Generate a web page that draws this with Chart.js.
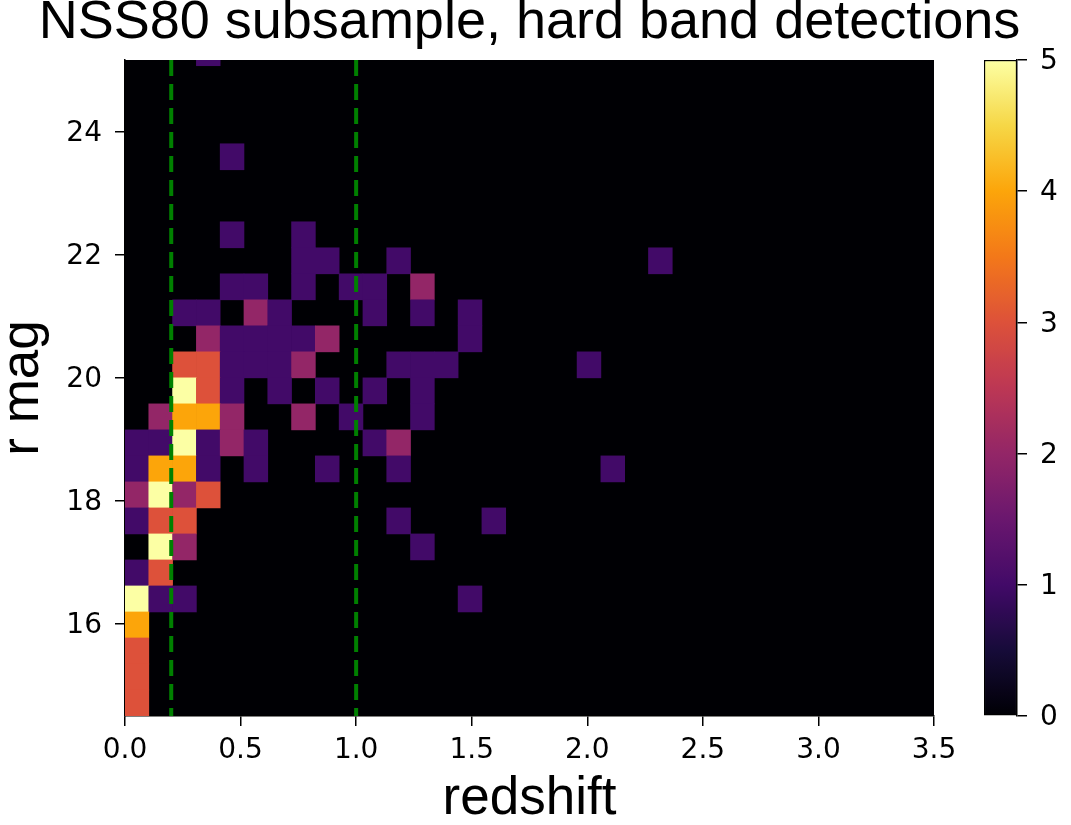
<!DOCTYPE html>
<html>
<head>
<meta charset="utf-8">
<title>NSS80 subsample, hard band detections</title>
<script src="https://cdn.jsdelivr.net/npm/chart.js@4.4.1/dist/chart.umd.min.js"></script>
<style>
    html, body { margin: 0; padding: 0; background: #ffffff; }
    #wrap { position: relative; width: 1071px; height: 825px; }
    #heatmap { position: absolute; left: 0; top: 0; }
    #colorbar { position: absolute; left: 940px; top: 0; }
</style>
</head>
<body>
<div id="wrap">
    <canvas id="heatmap" width="1071" height="825"></canvas>
    <canvas id="colorbar" width="131" height="825"></canvas>
</div>
<script>
// binning of the 2D histogram (redshift on x, r mag on y)
const zRange = [0, 3.5];
const zBinCount = 34;
const rRange = [14.5, 25.5];
const rBinCount = 26;

// visible r mag window of the plot
const rView = [14.5, 25.17];

// counts per bin, one row per r mag bin, first row = top (faintest) bin
const counts = [
    [0,0,0,1,0,0,0,0,0,0, 0,0,0,0,0,0,0,0,0,0, 0,0,0,0,0,0,0,0,0,0, 0,0,0,0], // 25.08-25.50
    [0,0,0,0,0,0,0,0,0,0, 0,0,0,0,0,0,0,0,0,0, 0,0,0,0,0,0,0,0,0,0, 0,0,0,0],
    [0,0,0,0,0,0,0,0,0,0, 0,0,0,0,0,0,0,0,0,0, 0,0,0,0,0,0,0,0,0,0, 0,0,0,0],
    [0,0,0,0,0,0,0,0,0,0, 0,0,0,0,0,0,0,0,0,0, 0,0,0,0,0,0,0,0,0,0, 0,0,0,0],
    [0,0,0,0,1,0,0,0,0,0, 0,0,0,0,0,0,0,0,0,0, 0,0,0,0,0,0,0,0,0,0, 0,0,0,0],
    [0,0,0,0,0,0,0,0,0,0, 0,0,0,0,0,0,0,0,0,0, 0,0,0,0,0,0,0,0,0,0, 0,0,0,0],
    [0,0,0,0,0,0,0,0,0,0, 0,0,0,0,0,0,0,0,0,0, 0,0,0,0,0,0,0,0,0,0, 0,0,0,0],
    [0,0,0,0,1,0,0,1,0,0, 0,0,0,0,0,0,0,0,0,0, 0,0,0,0,0,0,0,0,0,0, 0,0,0,0],
    [0,0,0,0,0,0,0,1,1,0, 0,1,0,0,0,0,0,0,0,0, 0,0,1,0,0,0,0,0,0,0, 0,0,0,0],
    [0,0,0,0,1,1,0,1,0,1, 1,0,2,0,0,0,0,0,0,0, 0,0,0,0,0,0,0,0,0,0, 0,0,0,0],
    [0,0,1,1,0,2,1,0,0,0, 1,0,1,0,1,0,0,0,0,0, 0,0,0,0,0,0,0,0,0,0, 0,0,0,0],
    [0,0,0,2,1,1,1,1,2,0, 0,0,0,0,1,0,0,0,0,0, 0,0,0,0,0,0,0,0,0,0, 0,0,0,0],
    [0,0,3,3,1,1,1,2,0,0, 0,1,1,1,0,0,0,0,0,1, 0,0,0,0,0,0,0,0,0,0, 0,0,0,0],
    [0,0,5,3,1,0,1,0,1,0, 1,0,1,0,0,0,0,0,0,0, 0,0,0,0,0,0,0,0,0,0, 0,0,0,0],
    [0,2,4,4,2,0,0,2,0,1, 0,0,1,0,0,0,0,0,0,0, 0,0,0,0,0,0,0,0,0,0, 0,0,0,0],
    [1,1,5,1,2,1,0,0,0,0, 1,2,0,0,0,0,0,0,0,0, 0,0,0,0,0,0,0,0,0,0, 0,0,0,0],
    [1,4,4,1,0,1,0,0,1,0, 0,1,0,0,0,0,0,0,0,0, 1,0,0,0,0,0,0,0,0,0, 0,0,0,0],
    [2,5,2,3,0,0,0,0,0,0, 0,0,0,0,0,0,0,0,0,0, 0,0,0,0,0,0,0,0,0,0, 0,0,0,0],
    [1,3,3,0,0,0,0,0,0,0, 0,1,0,0,0,1,0,0,0,0, 0,0,0,0,0,0,0,0,0,0, 0,0,0,0],
    [0,5,2,0,0,0,0,0,0,0, 0,0,1,0,0,0,0,0,0,0, 0,0,0,0,0,0,0,0,0,0, 0,0,0,0],
    [1,3,0,0,0,0,0,0,0,0, 0,0,0,0,0,0,0,0,0,0, 0,0,0,0,0,0,0,0,0,0, 0,0,0,0],
    [5,1,1,0,0,0,0,0,0,0, 0,0,0,0,1,0,0,0,0,0, 0,0,0,0,0,0,0,0,0,0, 0,0,0,0],
    [4,0,0,0,0,0,0,0,0,0, 0,0,0,0,0,0,0,0,0,0, 0,0,0,0,0,0,0,0,0,0, 0,0,0,0],
    [3,0,0,0,0,0,0,0,0,0, 0,0,0,0,0,0,0,0,0,0, 0,0,0,0,0,0,0,0,0,0, 0,0,0,0],
    [3,0,0,0,0,0,0,0,0,0, 0,0,0,0,0,0,0,0,0,0, 0,0,0,0,0,0,0,0,0,0, 0,0,0,0],
    [3,0,0,0,0,0,0,0,0,0, 0,0,0,0,0,0,0,0,0,0, 0,0,0,0,0,0,0,0,0,0, 0,0,0,0]  // 14.50-14.92
];

// dashed redshift cuts
const cutLines = [0.2, 1.0];

// ticks
const xTicks = [0, 0.5, 1.0, 1.5, 2.0, 2.5, 3.0, 3.5];
const xTickLabels = ['0.0', '0.5', '1.0', '1.5', '2.0', '2.5', '3.0', '3.5'];
const yTicks = [16, 18, 20, 22, 24];
const cbarTicks = [0, 1, 2, 3, 4, 5];
const cbarMax = 5;

// inferno colormap stops (0..1)
const infernoStops = ['#000004', '#160b39', '#420a68', '#6a176e', '#932667', '#bc3754',
                      '#dd513a', '#f37819', '#fca50a', '#f6d746', '#fcffa4'];

function hexToRgb(h) {
    return [parseInt(h.substr(1, 2), 16), parseInt(h.substr(3, 2), 16), parseInt(h.substr(5, 2), 16)];
}

function inferno(t) {
    t = Math.max(0, Math.min(1, t));
    const pos = t * (infernoStops.length - 1);
    const k = Math.min(Math.floor(pos), infernoStops.length - 2);
    const f = pos - k;
    const a = hexToRgb(infernoStops[k]);
    const b = hexToRgb(infernoStops[k + 1]);
    const c = a.map((v, n) => Math.round(v + (b[n] - v) * f));
    return `rgb(${c[0]},${c[1]},${c[2]})`;
}

document.addEventListener("DOMContentLoaded", function () {
    const zStep = (zRange[1] - zRange[0]) / zBinCount;
    const rStep = (rRange[1] - rRange[0]) / rBinCount;

    // turn the count table into floating bars, one per non-empty bin
    const cells = [];
    counts.forEach((row, rowIdx) => {
        const j = rBinCount - 1 - rowIdx;
        row.forEach((v, i) => {
            if (v > 0) {
                cells.push({
                    x: zRange[0] + (i + 0.5) * zStep,
                    y: [rRange[0] + j * rStep, rRange[0] + (j + 1) * rStep],
                    v: v
                });
            }
        });
    });

    const black = '#000000';
    const tickFont = { family: 'DejaVu Sans', size: 28 };
    const labelFont = { family: 'Liberation Sans', size: 53, lineHeight: 0.8 };

    // fill plot area with the colormap's zero colour
    const plotBackground = {
        id: 'plotBackground',
        beforeDraw(chart) {
            const { ctx, chartArea: a } = chart;
            ctx.save();
            ctx.fillStyle = inferno(0);
            ctx.fillRect(a.left, a.top, a.right - a.left, a.bottom - a.top);
            ctx.restore();
        }
    };

    const lineSets = cutLines.map(z => ({
        type: 'line',
        data: [{ x: z, y: rView[1] }, { x: z, y: rView[0] }],
        borderColor: '#008000',
        borderWidth: 4,
        borderDash: [16, 8],
        pointRadius: 0,
        fill: false,
        order: 0
    }));

    new Chart(document.getElementById('heatmap'), {
        type: 'bar',
        data: {
            datasets: [{
                data: cells,
                backgroundColor: ctx => ctx.raw ? inferno(ctx.raw.v / cbarMax) : black,
                borderWidth: 0,
                barPercentage: 1,
                categoryPercentage: 1,
                order: 1
            }].concat(lineSets)
        },
        options: {
            responsive: false,
            animation: false,
            // title box spans 0..1059 so it stays centred over the plot area
            layout: { padding: { left: 0, right: 12, top: 0, bottom: 0 } },
            plugins: {
                legend: { display: false },
                tooltip: { enabled: false },
                title: {
                    display: true,
                    text: 'NSS80 subsample, hard band detections',
                    color: black,
                    font: { family: 'Liberation Sans', size: 54, weight: 'normal', lineHeight: 0.8 },
                    padding: { top: 1.7, bottom: 15.1 }
                }
            },
            scales: {
                x: {
                    type: 'linear',
                    min: zRange[0],
                    max: zRange[1],
                    offset: false,
                    afterBuildTicks: s => { s.ticks = xTicks.map(v => ({ value: v })); },
                    afterFit: s => { s.height = 109; },
                    grid: { drawOnChartArea: false, drawTicks: true, tickLength: 10, lineWidth: 1.5, color: black, offset: false },
                    border: { display: true, color: black, width: 1.5 },
                    ticks: {
                        font: tickFont, color: black, padding: 8, maxRotation: 0, autoSkip: false,
                        callback: (v, i) => xTickLabels[i]
                    },
                    title: { display: true, text: 'redshift', color: black, font: labelFont, padding: { top: 0, bottom: 4 } }
                },
                y: {
                    type: 'linear',
                    min: rView[0],
                    max: rView[1],
                    afterBuildTicks: s => { s.ticks = yTicks.map(v => ({ value: v })); },
                    afterFit: s => { s.width = 125; },
                    grid: { drawOnChartArea: false, drawTicks: true, tickLength: 10, lineWidth: 1.5, color: black },
                    border: { display: true, color: black, width: 1.5 },
                    ticks: { font: tickFont, color: black, padding: 13, labelOffset: 2, autoSkip: false },
                    title: { display: true, text: 'r mag', color: black, font: labelFont, padding: { top: 2, bottom: 0 } }
                },
                // empty right-hand axis that reserves room for the colour bar
                yRight: {
                    type: 'linear',
                    position: 'right',
                    min: rView[0],
                    max: rView[1],
                    afterFit: s => { s.width = 125; },
                    grid: { display: false },
                    border: { display: false },
                    ticks: { display: false }
                }
            }
        },
        plugins: [plotBackground]
    });

    // colour bar
    new Chart(document.getElementById('colorbar'), {
        type: 'bar',
        data: {
            labels: [''],
            datasets: [{
                data: [[0, cbarMax]],
                backgroundColor: ctx => {
                    const area = ctx.chart.chartArea;
                    if (!area) return black;
                    const g = ctx.chart.ctx.createLinearGradient(0, area.bottom, 0, area.top);
                    for (let s = 0; s <= 50; s++) g.addColorStop(s / 50, inferno(s / 50));
                    return g;
                },
                borderColor: black,
                borderWidth: 1.5,
                borderSkipped: false,
                barPercentage: 1,
                categoryPercentage: 1
            }]
        },
        options: {
            responsive: false,
            animation: false,
            layout: { padding: { left: 44, right: 0, top: 60, bottom: 109 } },
            plugins: { legend: { display: false }, tooltip: { enabled: false } },
            scales: {
                x: { display: false },
                y: {
                    position: 'right',
                    min: 0,
                    max: cbarMax,
                    afterBuildTicks: s => { s.ticks = cbarTicks.map(v => ({ value: v })); },
                    afterFit: s => { s.width = 54; },
                    grid: { drawOnChartArea: false, drawTicks: true, tickLength: 10, lineWidth: 1.5, color: black },
                    border: { display: true, color: black, width: 1.5 },
                    ticks: { font: tickFont, color: black, padding: 13, labelOffset: 2 }
                }
            }
        }
    });
});
</script>
</body>
</html>
